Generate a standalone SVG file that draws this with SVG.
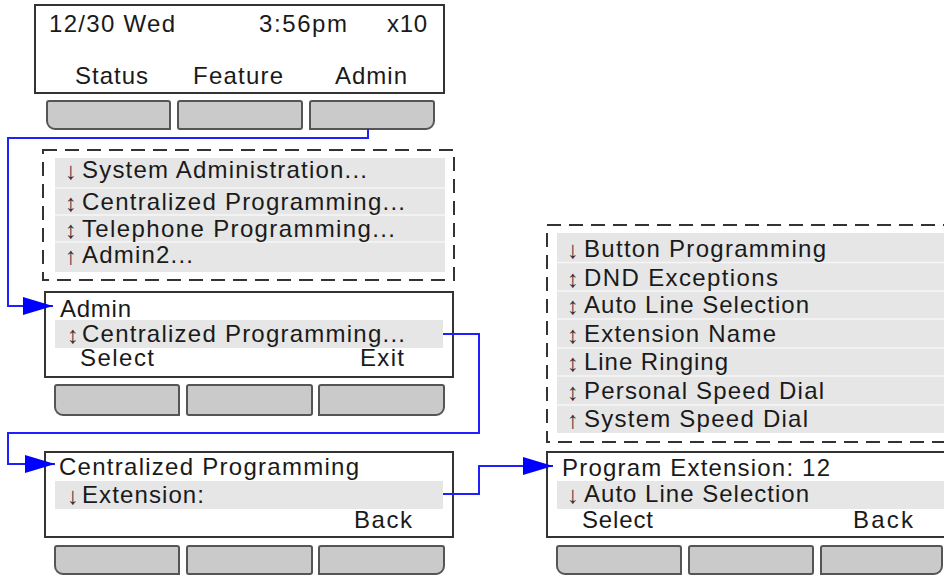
<svg xmlns="http://www.w3.org/2000/svg" width="944" height="576" viewBox="0 0 944 576">
<style>
.panel{fill:#fff;stroke:#333;stroke-width:2}
.btn{fill:#cacaca;stroke:#555;stroke-width:2}
.dash{fill:#fff;stroke:#333;stroke-width:2;stroke-dasharray:14 8}
.hl{fill:#e6e6e6}
.sep{stroke:#f6f6f6;stroke-width:1.5}
.t{font-family:"Liberation Sans",Arial,sans-serif;font-size:24px;fill:#1a1a1a}
.ar{font-family:"Liberation Sans","DejaVu Sans",sans-serif;font-size:24px;fill:#3a3038}
.conn{fill:none;stroke:#2020ff;stroke-width:2}
</style>
<defs>
<marker id="ah" markerUnits="userSpaceOnUse" markerWidth="30" markerHeight="18" refX="30" refY="9" orient="auto">
<path d="M0,0 L30,9 L0,18 Z" fill="#0000ff"/>
</marker>
</defs>

<g id="main-screen">
<rect class="panel" x="35" y="5" width="409" height="88"/>
<text class="t" x="49" y="32" textLength="126" lengthAdjust="spacing">12/30 Wed</text>
<text class="t" x="259" y="32" textLength="88" lengthAdjust="spacing">3:56pm</text>
<text class="t" x="387" y="32" textLength="40" lengthAdjust="spacing">x10</text>
<text class="t" x="75" y="84" textLength="73" lengthAdjust="spacing">Status</text>
<text class="t" x="193" y="84" textLength="90" lengthAdjust="spacing">Feature</text>
<text class="t" x="335" y="84" textLength="72" lengthAdjust="spacing">Admin</text>
<path class="btn" d="M47,103 Q47,101 49,101 H168 Q170,101 170,103 V129 H55 A8,8 0 0 1 47,121 Z"/>
<rect class="btn" x="178" y="101" width="124" height="28" rx="2"/>
<path class="btn" d="M310,103 Q310,101 312,101 H432 Q434,101 434,103 V121 A8,8 0 0 1 426,129 H310 Z"/>
</g>

<g id="admin-menu-list">
<rect class="dash" x="43" y="150" width="411" height="130"/>
<rect class="hl" x="55" y="158" width="390" height="114"/>
<line class="sep" x1="55" y1="188" x2="445" y2="188"/>
<line class="sep" x1="55" y1="215" x2="445" y2="215"/>
<line class="sep" x1="55" y1="242" x2="445" y2="242"/>
<text class="ar" x="65" y="179">↓</text>
<text class="t" x="82" y="178" textLength="285" lengthAdjust="spacing">System Administration...</text>
<text class="ar" x="65" y="211">↕</text>
<text class="t" x="82" y="210" textLength="323" lengthAdjust="spacing">Centralized Programming...</text>
<text class="ar" x="65" y="238">↕</text>
<text class="t" x="82" y="237" textLength="313" lengthAdjust="spacing">Telephone Programming...</text>
<text class="ar" x="65" y="264">↑</text>
<text class="t" x="82" y="263" textLength="111" lengthAdjust="spacing">Admin2...</text>
</g>

<g id="admin-screen">
<rect class="panel" x="45" y="292" width="408" height="85"/>
<rect class="hl" x="55" y="320" width="388" height="28"/>
<text class="t" x="60" y="317" textLength="71" lengthAdjust="spacing">Admin</text>
<text class="ar" x="67" y="343">↕</text>
<text class="t" x="82" y="342" textLength="323" lengthAdjust="spacing">Centralized Programming...</text>
<text class="t" x="80" y="366" textLength="74" lengthAdjust="spacing">Select</text>
<text class="t" x="360" y="366" textLength="44" lengthAdjust="spacing">Exit</text>
<path class="btn" d="M55,387 Q55,385 57,385 H177 Q179,385 179,387 V415 H63 A8,8 0 0 1 55,407 Z"/>
<rect class="btn" x="187" y="385" width="125" height="30" rx="2"/>
<path class="btn" d="M319,387 Q319,385 321,385 H442 Q444,385 444,387 V407 A8,8 0 0 1 436,415 H319 Z"/>
</g>

<g id="centralized-screen">
<rect class="panel" x="45" y="452" width="408" height="85"/>
<rect class="hl" x="55" y="481" width="388" height="28"/>
<text class="t" x="59" y="475" textLength="300" lengthAdjust="spacing">Centralized Programming</text>
<text class="ar" x="67" y="504">↓</text>
<text class="t" x="82" y="503" textLength="122" lengthAdjust="spacing">Extension:</text>
<text class="t" x="354" y="528" textLength="58" lengthAdjust="spacing">Back</text>
<path class="btn" d="M55,548 Q55,546 57,546 H177 Q179,546 179,548 V574 H63 A8,8 0 0 1 55,566 Z"/>
<rect class="btn" x="187" y="546" width="125" height="28" rx="2"/>
<path class="btn" d="M319,548 Q319,546 321,546 H442 Q444,546 444,548 V566 A8,8 0 0 1 436,574 H319 Z"/>
</g>

<g id="extension-menu-list">
<rect class="dash" x="547" y="225" width="410" height="217"/>
<rect class="hl" x="557" y="233" width="390" height="200"/>
<line class="sep" x1="557" y1="262.5" x2="947" y2="262.5"/>
<line class="sep" x1="557" y1="291" x2="947" y2="291"/>
<line class="sep" x1="557" y1="319" x2="947" y2="319"/>
<line class="sep" x1="557" y1="348" x2="947" y2="348"/>
<line class="sep" x1="557" y1="376" x2="947" y2="376"/>
<line class="sep" x1="557" y1="405" x2="947" y2="405"/>
<text class="ar" x="567" y="258">↓</text>
<text class="t" x="584" y="257" textLength="242" lengthAdjust="spacing">Button Programming</text>
<text class="ar" x="567" y="287">↕</text>
<text class="t" x="584" y="286" textLength="194" lengthAdjust="spacing">DND Exceptions</text>
<text class="ar" x="567" y="314">↕</text>
<text class="t" x="584" y="313" textLength="225" lengthAdjust="spacing">Auto Line Selection</text>
<text class="ar" x="567" y="343">↕</text>
<text class="t" x="584" y="342" textLength="192" lengthAdjust="spacing">Extension Name</text>
<text class="ar" x="567" y="371">↕</text>
<text class="t" x="584" y="370" textLength="144" lengthAdjust="spacing">Line Ringing</text>
<text class="ar" x="567" y="400">↕</text>
<text class="t" x="584" y="399" textLength="240" lengthAdjust="spacing">Personal Speed Dial</text>
<text class="ar" x="567" y="428">↑</text>
<text class="t" x="584" y="427" textLength="224" lengthAdjust="spacing">System Speed Dial</text>
</g>

<g id="program-extension-screen">
<rect class="panel" x="547" y="452" width="410" height="85"/>
<rect class="hl" x="557" y="481" width="390" height="28"/>
<text class="t" x="562" y="476" textLength="268" lengthAdjust="spacing">Program Extension: 12</text>
<text class="ar" x="567" y="503">↓</text>
<text class="t" x="584" y="502" textLength="225" lengthAdjust="spacing">Auto Line Selection</text>
<text class="t" x="582" y="528" textLength="71" lengthAdjust="spacing">Select</text>
<text class="t" x="853" y="528" textLength="60" lengthAdjust="spacing">Back</text>
<path class="btn" d="M557,548 Q557,546 559,546 H679 Q681,546 681,548 V574 H565 A8,8 0 0 1 557,566 Z"/>
<rect class="btn" x="689" y="546" width="124" height="28" rx="2"/>
<path class="btn" d="M821,548 Q821,546 823,546 H940 Q942,546 942,548 V566 A8,8 0 0 1 934,574 H821 Z"/>
</g>

<g id="connectors">
<path class="conn" d="M368,129 V138 H8 V306 H53" marker-end="url(#ah)"/>
<path class="conn" d="M443,334 H479 V433 H8 V464 H55" marker-end="url(#ah)"/>
<path class="conn" d="M443,494 H479 V466 H553" marker-end="url(#ah)"/>
</g>
</svg>
